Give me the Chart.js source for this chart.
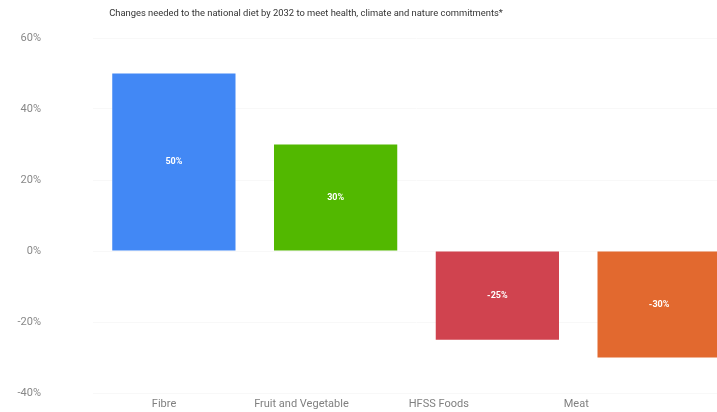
<!DOCTYPE html>
<html>
<head>
<meta charset="utf-8">
<script src="https://cdn.jsdelivr.net/npm/chart.js@4/dist/chart.umd.min.js"></script>
<style>
  html, body { margin: 0; padding: 0; background: #ffffff; overflow: hidden; }
  #wrap { width: 740px; height: 412px; }
</style>
</head>
<body>
<div id="wrap"><canvas id="chart" width="740" height="412"></canvas></div>
<script>
// Diet change targets by 2032 (percent change)
const categories = ["Fibre", "Fruit and Vegetable", "HFSS Foods", "Meat"];
const changes = [50, 30, -25, -30];
const barColors = ["#4288f5", "#52b800", "#d0434f", "#e2692f"];
const yTicks = [-40, -20, 0, 20, 40, 60];
const titleText = "Changes needed to the national diet by 2032 to meet health, climate and nature commitments*";

const fontFamily = "Roboto, 'Liberation Sans', sans-serif";

// Title drawn above the plot area
const captionPlugin = {
  id: "caption",
  afterDraw(chart) {
    const ctx = chart.ctx;
    ctx.save();
    ctx.font = "9.4px " + fontFamily;
    ctx.fillStyle = "#333333";
    ctx.textAlign = "center";
    ctx.textBaseline = "middle";
    ctx.fillText(titleText, 306, 14);
    ctx.restore();
  }
};

// Value labels in the middle of each bar
const valueLabels = {
  id: "valueLabels",
  afterDatasetsDraw(chart) {
    const ctx = chart.ctx;
    const meta = chart.getDatasetMeta(0);
    ctx.save();
    ctx.font = "bold 9px " + fontFamily;
    ctx.fillStyle = "#ffffff";
    ctx.textAlign = "center";
    ctx.textBaseline = "middle";
    meta.data.forEach((bar, i) => {
      const c = bar.getCenterPoint();
      ctx.fillText(changes[i] + "%", c.x, c.y);
    });
    ctx.restore();
  }
};

new Chart(document.getElementById("chart"), {
  type: "bar",
  data: {
    labels: categories,
    datasets: [{
      data: changes,
      backgroundColor: barColors,
      borderWidth: 0,
      categoryPercentage: 1,
      barPercentage: 0.762
    }]
  },
  options: {
    responsive: false,
    animation: false,
    layout: { padding: { top: 38, bottom: 0, left: 0, right: 0 } },
    plugins: {
      legend: { display: false },
      title: { display: false },
      tooltip: { enabled: false }
    },
    scales: {
      x: {
        type: "category",
        display: false
      },
      // category names sit on their own axis, one tick per category
      xLabels: {
        type: "linear",
        position: "bottom",
        offset: false,
        min: -0.517,
        max: 4.192,
        grid: { display: false, drawTicks: false },
        border: { display: false },
        afterBuildTicks(axis) {
          axis.ticks = categories.map((_, i) => ({ value: i }));
        },
        afterFit(axis) { axis.height = 19; },
        ticks: {
          padding: 5,
          color: "#808080",
          font: { size: 11, family: fontFamily },
          maxRotation: 0,
          autoSkip: false,
          callback: (v) => categories[v]
        }
      },
      y: {
        min: -40,
        max: 60,
        afterBuildTicks(axis) {
          axis.ticks = yTicks.map(v => ({ value: v }));
        },
        afterFit(axis) {
          axis.width = 93;
          axis.paddingTop = 7;
          axis.paddingBottom = 7;
        },
        grid: { color: "#f8f8f8", drawTicks: false },
        border: { display: false },
        ticks: {
          padding: 52,
          color: "#888888",
          font: { size: 11, family: fontFamily },
          callback: (v) => v + "%"
        }
      }
    }
  },
  plugins: [captionPlugin, valueLabels]
});
</script>
</body>
</html>
